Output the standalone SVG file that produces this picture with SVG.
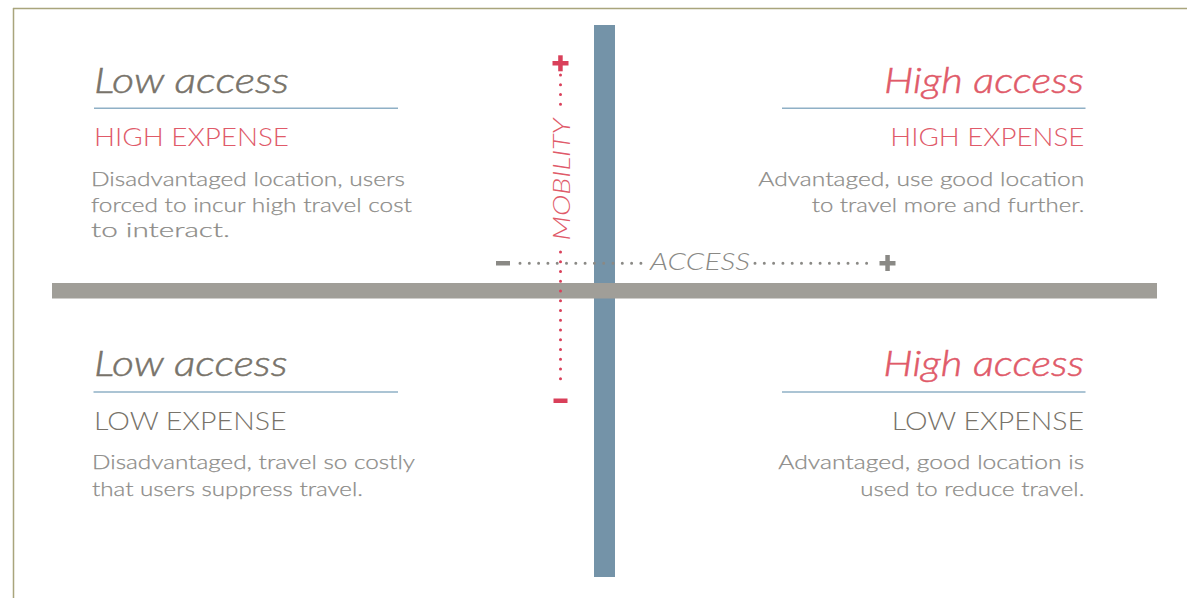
<svg xmlns="http://www.w3.org/2000/svg" width="1187" height="598" viewBox="0 0 1187 598">
<style>
.title{font-family:Lato,"Open Sans","Liberation Sans",sans-serif;font-style:italic;font-weight:300;font-size:36px;stroke-width:0.5}
.sub{font-family:Lato,"Open Sans","Liberation Sans",sans-serif;font-weight:300;font-size:25px}
.body{font-family:Lato,"Open Sans","Liberation Sans",sans-serif;font-weight:300;font-size:20.5px;fill:#8c8b88;stroke:#8c8b88;stroke-width:0.25}
.axis{font-family:Lato,"Open Sans","Liberation Sans",sans-serif;font-style:italic;font-weight:300;font-size:24px}
.gray{fill:#78736a}
.title.gray{stroke:#78736a}
.red{fill:#e05a69}
.title.red{stroke:#e05a69}
.rule{stroke:#8fb0c6;stroke-width:1.5}
.r{text-anchor:end}
.dotR{stroke:#d9405a;stroke-width:3;stroke-linecap:round;stroke-dasharray:0 9.75;fill:none}
.dotG{stroke:#8a8985;stroke-width:3;stroke-linecap:round;stroke-dasharray:0 9.3;fill:none}
</style>
<rect width="1187" height="598" fill="#ffffff"/>
<g id="frame">
<line x1="13" y1="8.5" x2="1187" y2="8.5" stroke="#a9a57c" stroke-width="1.5"/>
<line x1="13.5" y1="8" x2="13.5" y2="598" stroke="#a9a57c" stroke-width="1.5"/>
</g>
<g id="connectors">
<rect x="594" y="25" width="21" height="552" fill="#7493a8"/>
<rect x="52" y="283" width="1105" height="15.5" fill="#a09e98"/>
<line class="dotR" x1="560.5" y1="75" x2="560.5" y2="106"/>
<line class="dotR" x1="560.5" y1="252" x2="560.5" y2="381"/>
<rect x="552.5" y="61" width="16" height="4.5" fill="#d9405a"/>
<rect x="558.2" y="55.3" width="4.5" height="16" fill="#d9405a"/>
<rect x="553.5" y="398.5" width="14" height="4.5" fill="#d9405a"/>
<text class="axis red" transform="translate(570,179.5) rotate(-90)" text-anchor="middle" textLength="122" lengthAdjust="spacingAndGlyphs">MOBILITY</text>
<line class="dotG" x1="520" y1="263.3" x2="647" y2="263.3"/>
<line class="dotG" x1="755" y1="263.3" x2="872" y2="263.3"/>
<rect x="496" y="261" width="14" height="4.5" fill="#8a8985"/>
<rect x="879.5" y="261" width="16" height="4.5" fill="#8a8985"/>
<rect x="885.3" y="255" width="4.5" height="16" fill="#8a8985"/>
<text class="axis" x="650" y="270" fill="#8a8985" textLength="100" lengthAdjust="spacingAndGlyphs">ACCESS</text>
</g>
<g id="q-top-left">
<text class="title gray" x="94" y="92.5" textLength="195" lengthAdjust="spacingAndGlyphs">Low access</text>
<line class="rule" x1="94" y1="108.3" x2="398" y2="108.3"/>
<text class="sub red" x="94" y="145.7" textLength="195" lengthAdjust="spacingAndGlyphs">HIGH EXPENSE</text>
<text class="body" x="91" y="185.7" textLength="314" lengthAdjust="spacingAndGlyphs">Disadvantaged location, users</text>
<text class="body" x="91" y="212" textLength="321" lengthAdjust="spacingAndGlyphs">forced to incur high travel cost</text>
<text class="body" x="91" y="236.5" textLength="139" lengthAdjust="spacingAndGlyphs">to interact.</text>
</g>
<g id="q-top-right">
<text class="title red r" x="1084" y="92.5" textLength="200" lengthAdjust="spacingAndGlyphs">High access</text>
<line class="rule" x1="782" y1="108.3" x2="1085.5" y2="108.3"/>
<text class="sub red r" x="1084.3" y="145.7" textLength="194" lengthAdjust="spacingAndGlyphs">HIGH EXPENSE</text>
<text class="body r" x="1084.3" y="185.7" textLength="326" lengthAdjust="spacingAndGlyphs">Advantaged, use good location</text>
<text class="body r" x="1084.3" y="212" textLength="272.5" lengthAdjust="spacingAndGlyphs">to travel more and further.</text>
</g>
<g id="q-bottom-left">
<text class="title gray" x="94" y="376" textLength="193.5" lengthAdjust="spacingAndGlyphs">Low access</text>
<line class="rule" x1="93.5" y1="392" x2="398" y2="392"/>
<text class="sub gray" x="94" y="430" textLength="192.5" lengthAdjust="spacingAndGlyphs">LOW EXPENSE</text>
<text class="body" x="92" y="469" textLength="323" lengthAdjust="spacingAndGlyphs">Disadvantaged, travel so costly</text>
<text class="body" x="92" y="495.5" textLength="271" lengthAdjust="spacingAndGlyphs">that users suppress travel.</text>
</g>
<g id="q-bottom-right">
<text class="title red r" x="1084" y="376" textLength="200.7" lengthAdjust="spacingAndGlyphs">High access</text>
<line class="rule" x1="782" y1="392" x2="1085.5" y2="392"/>
<text class="sub gray r" x="1084" y="430" textLength="192.3" lengthAdjust="spacingAndGlyphs">LOW EXPENSE</text>
<text class="body r" x="1084.3" y="469" textLength="306" lengthAdjust="spacingAndGlyphs">Advantaged, good location is</text>
<text class="body r" x="1084.3" y="495.5" textLength="224" lengthAdjust="spacingAndGlyphs">used to reduce travel.</text>
</g>
</svg>
